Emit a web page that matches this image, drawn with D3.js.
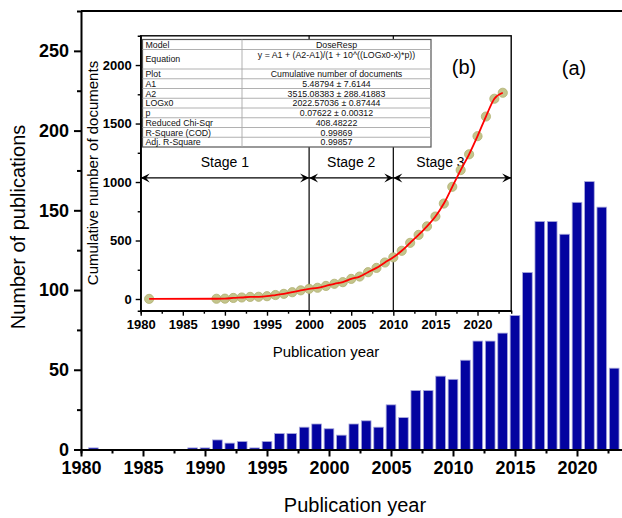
<!DOCTYPE html>
<html>
<head>
<meta charset="utf-8">
<script src="https://cdn.jsdelivr.net/npm/d3@7/dist/d3.min.js"></script>
<style>
  html, body { margin: 0; padding: 0; background: #fff; }
  svg { display: block; font-family: "Liberation Sans", Arial, Helvetica, sans-serif; }
</style>
</head>
<body>
<svg id="chart" width="622" height="518"></svg>
<script>
// Publications per year
const years = [1981, 1989, 1990, 1991, 1992, 1993, 1994, 1995, 1996, 1997, 1998, 1999,
  2000, 2001, 2002, 2003, 2004, 2005, 2006, 2007, 2008, 2009, 2010, 2011, 2012, 2013,
  2014, 2015, 2016, 2017, 2018, 2019, 2020, 2021, 2022, 2023];
const publications = [1, 1, 1, 6, 4, 5, 1, 5, 10, 10, 14, 16,
  13, 9, 16, 18, 14, 28, 20, 37, 37, 46, 44, 56, 68, 68,
  73, 84, 111, 143, 143, 135, 155, 168, 152, 51];
// Cumulative number of documents (inset)
const cumulative = [1, 2, 3, 9, 13, 18, 19, 24, 34, 44, 58, 74,
  87, 96, 112, 130, 144, 172, 192, 229, 266, 312, 356, 412, 480, 548,
  621, 705, 816, 959, 1102, 1237, 1392, 1560, 1712, 1763];

// Axis ticks
const mainXTicks = [1980, 1985, 1990, 1995, 2000, 2005, 2010, 2015, 2020];
const mainXMinor = [1982.5, 1987.5, 1992.5, 1997.5, 2002.5, 2007.5, 2012.5, 2017.5, 2022.5];
const mainYTicks = [0, 50, 100, 150, 200, 250];
const mainYMinor = [25, 75, 125, 175, 225];
const insetXTicks = mainXTicks;
const insetXMinor = mainXMinor;
const insetYTicks = [0, 500, 1000, 1500, 2000];
const insetYMinor = [250, 750, 1250, 1750];

// Stages
const stageNames = ["Stage 1", "Stage 2", "Stage 3"];
const stageStart = [1980, 2000, 2010];
const stageEnd = [2000, 2010, 2024];
const stageDividers = [2000, 2010];

// Fit report table
const tableKeys = ["Model", "Equation", "Plot", "A1", "A2", "LOGx0", "p",
  "Reduced Chi-Sqr", "R-Square (COD)", "Adj. R-Square"];
const tableValues = ["DoseResp", "y = A1 + (A2-A1)/(1 + 10^((LOGx0-x)*p))",
  "Cumulative number of documents", "5.48794 \u00b1 7.6144", "3515.08383 \u00b1 288.41883",
  "2022.57036 \u00b1 0.87444", "0.07622 \u00b1 0.00312", "408.48222", "0.99869", "0.99857"];

const svg = d3.select("#chart");
const FONT = "\"Liberation Sans\", Arial, Helvetica, sans-serif";

/* ---------------- Main bar chart (a) ---------------- */
const x = d3.scaleLinear().domain([1980, 2024]).range([81, 626.6]);
const y = d3.scaleLinear().domain([0, 275]).range([449.5, 11]);
const barW = (x(1981) - x(1980)) * 0.78;

const main = svg.append("g");

main.selectAll("rect.bar")
  .data(years.map((yr, i) => ({ yr, v: publications[i] })))
  .join("rect")
  .attr("class", "bar")
  .attr("x", d => x(d.yr) - barW / 2)
  .attr("width", barW)
  .attr("y", d => y(d.v))
  .attr("height", d => y(0) - y(d.v))
  .attr("fill", "#0303a0")
  .attr("stroke", "#a9a9dc")
  .attr("stroke-width", 0.8);

// frame top line
main.append("line")
  .attr("x1", x(1980)).attr("x2", x(2024))
  .attr("y1", y(275)).attr("y2", y(275))
  .attr("stroke", "#000").attr("stroke-width", 2);

function styleAxis(g, size, bold, lw) {
  g.select(".domain").attr("stroke", "#000").attr("stroke-width", lw);
  g.selectAll(".tick line").attr("stroke", "#000").attr("stroke-width", lw);
  g.selectAll(".tick text")
    .attr("fill", "#000")
    .style("font-family", FONT)
    .style("font-size", size + "px")
    .style("font-weight", bold ? "bold" : "normal");
}

// Main x axis
const gx = main.append("g").attr("transform", `translate(0,${y(0)})`);
gx.call(d3.axisBottom(x).tickValues(mainXMinor).tickSize(4).tickFormat(""));
styleAxis(gx, 18, true, 2);
const gx2 = main.append("g").attr("transform", `translate(0,${y(0)})`);
gx2.call(d3.axisBottom(x).tickValues(mainXTicks).tickSize(7).tickPadding(5).tickFormat(d3.format("d")));
gx2.select(".domain").remove();
styleAxis(gx2, 18, true, 2);

// Main y axis
const gy = main.append("g").attr("transform", `translate(${x(1980)},0)`);
gy.call(d3.axisLeft(y).tickValues(mainYMinor).tickSize(4).tickFormat(""));
styleAxis(gy, 18, true, 2);
const gy2 = main.append("g").attr("transform", `translate(${x(1980)},0)`);
gy2.call(d3.axisLeft(y).tickValues(mainYTicks).tickSize(7).tickPadding(5).tickFormat(d3.format("d")));
gy2.select(".domain").remove();
styleAxis(gy2, 18, true, 2);

main.append("text")
  .attr("x", 355).attr("y", 512)
  .attr("text-anchor", "middle")
  .style("font-size", "20px")
  .text("Publication year");

main.append("text")
  .attr("transform", "translate(25,227) rotate(-90)")
  .attr("text-anchor", "middle")
  .style("font-size", "20px")
  .text("Number of publications");

main.append("text")
  .attr("x", 574).attr("y", 75)
  .attr("text-anchor", "middle")
  .style("font-size", "20px")
  .text("(a)");

/* ---------------- Inset (b): cumulative documents ---------------- */
const xi = d3.scaleLinear().domain([1980, 2024]).range([140.7, 511.2]);
const yi = d3.scaleLinear().domain([-100, 2250]).range([310.7, 35.8]);

const inset = svg.append("g");

inset.append("rect")
  .attr("x", xi(1980)).attr("y", yi(2250))
  .attr("width", xi(2024) - xi(1980))
  .attr("height", yi(-100) - yi(2250))
  .attr("fill", "#fff");

// stage dividers
inset.selectAll("line.divider")
  .data(stageDividers)
  .join("line")
  .attr("x1", d => xi(d)).attr("x2", d => xi(d))
  .attr("y1", yi(2250)).attr("y2", yi(-100))
  .attr("stroke", "#000").attr("stroke-width", 1.2);

// arrow heads
const defs = svg.append("defs");
defs.append("marker")
  .attr("id", "arrowhead")
  .attr("viewBox", "-10 -5 10 10")
  .attr("refX", 0).attr("refY", 0)
  .attr("markerWidth", 10).attr("markerHeight", 10)
  .attr("markerUnits", "userSpaceOnUse")
  .attr("orient", "auto-start-reverse")
  .append("path")
  .attr("d", "M0,0 L-9,-4.5 L-5.5,0 L-9,4.5 Z")
  .attr("fill", "#000");

const arrowY = yi(1035);
inset.selectAll("line.stage")
  .data(stageNames.map((n, i) => ({ n, s: stageStart[i], e: stageEnd[i] })))
  .join("line")
  .attr("class", "stage")
  .attr("x1", d => xi(d.s)).attr("x2", d => xi(d.e))
  .attr("y1", arrowY).attr("y2", arrowY)
  .attr("stroke", "#000").attr("stroke-width", 1.3)
  .attr("marker-start", "url(#arrowhead)")
  .attr("marker-end", "url(#arrowhead)");

const stageLabelYear = [1990, 2005, 2015.6];
inset.selectAll("text.stage")
  .data(stageNames)
  .join("text")
  .attr("x", (d, i) => xi(stageLabelYear[i]))
  .attr("y", arrowY - 11)
  .attr("text-anchor", "middle")
  .style("font-size", "14px")
  .text(d => d);

// data points and connecting curve
const pts = years.map((yr, i) => ({ yr, v: cumulative[i] }));
inset.selectAll("circle")
  .data(pts)
  .join("circle")
  .attr("cx", d => xi(d.yr))
  .attr("cy", d => yi(d.v))
  .attr("r", 4.6)
  .attr("fill", "#c4c48c")
  .attr("stroke", "#b0b070")
  .attr("stroke-width", 0.8);

inset.append("path")
  .datum(pts)
  .attr("fill", "none")
  .attr("stroke", "#ff0000")
  .attr("stroke-width", 1.8)
  .attr("d", d3.line().x(d => xi(d.yr)).y(d => yi(d.v)).curve(d3.curveMonotoneX));

// fit report table
const tX0 = 142.5, tX1 = 242, tX2 = 431;
const rowTops = [39.5, 49.5, 69];
for (let i = 1; i <= 8; i++) rowTops.push(69 + i * 9.75);
const table = inset.append("g");
table.append("rect")
  .attr("x", tX0).attr("y", rowTops[0])
  .attr("width", tX2 - tX0).attr("height", rowTops[rowTops.length - 1] - rowTops[0])
  .attr("fill", "#fff")
  .attr("stroke", "#555").attr("stroke-width", 1.2);
table.selectAll("line.row")
  .data(rowTops.slice(1, -1))
  .join("line")
  .attr("x1", tX0).attr("x2", tX2)
  .attr("y1", d => d).attr("y2", d => d)
  .attr("stroke", "#a8a8a8").attr("stroke-width", 0.9);
table.append("line")
  .attr("x1", tX1).attr("x2", tX1)
  .attr("y1", rowTops[0]).attr("y2", rowTops[rowTops.length - 1])
  .attr("stroke", "#a8a8a8").attr("stroke-width", 0.9);
table.selectAll("text.key")
  .data(tableKeys)
  .join("text")
  .attr("x", tX0 + 3)
  .attr("y", (d, i) => (rowTops[i] + rowTops[i + 1]) / 2 + 3.2)
  .style("font-size", "8.8px")
  .attr("fill", "#111")
  .text(d => d);
table.selectAll("text.val")
  .data(tableValues)
  .join("text")
  .attr("x", (tX1 + tX2) / 2)
  .attr("y", (d, i) => i === 1 ? rowTops[1] + 8.5 : (rowTops[i] + rowTops[i + 1]) / 2 + 3.2)
  .attr("text-anchor", "middle")
  .style("font-size", "8.8px")
  .attr("fill", "#111")
  .text(d => d);

// inset frame
inset.append("rect")
  .attr("x", xi(1980)).attr("y", yi(2250))
  .attr("width", xi(2024) - xi(1980))
  .attr("height", yi(-100) - yi(2250))
  .attr("fill", "none")
  .attr("stroke", "#000").attr("stroke-width", 1.4);

// inset axes
const ix = inset.append("g").attr("transform", `translate(0,${yi(-100)})`);
ix.call(d3.axisBottom(xi).tickValues(insetXMinor).tickSize(3).tickFormat(""));
styleAxis(ix, 13, true, 1.4);
const ix2 = inset.append("g").attr("transform", `translate(0,${yi(-100)})`);
ix2.call(d3.axisBottom(xi).tickValues(insetXTicks).tickSize(5).tickPadding(4).tickFormat(d3.format("d")));
ix2.select(".domain").remove();
styleAxis(ix2, 13, true, 1.4);

const iy = inset.append("g").attr("transform", `translate(${xi(1980)},0)`);
iy.call(d3.axisLeft(yi).tickValues(insetYMinor).tickSize(3).tickFormat(""));
styleAxis(iy, 13, true, 1.4);
const iy2 = inset.append("g").attr("transform", `translate(${xi(1980)},0)`);
iy2.call(d3.axisLeft(yi).tickValues(insetYTicks).tickSize(5).tickPadding(4).tickFormat(d3.format("d")));
iy2.select(".domain").remove();
styleAxis(iy2, 13, true, 1.4);

inset.append("text")
  .attr("x", 326).attr("y", 357)
  .attr("text-anchor", "middle")
  .style("font-size", "15px")
  .text("Publication year");

inset.append("text")
  .attr("transform", "translate(98,173) rotate(-90)")
  .attr("text-anchor", "middle")
  .style("font-size", "15px")
  .text("Cumulative number of documents");

inset.append("text")
  .attr("x", 464).attr("y", 74)
  .attr("text-anchor", "middle")
  .style("font-size", "20px")
  .text("(b)");
</script>
</body>
</html>
